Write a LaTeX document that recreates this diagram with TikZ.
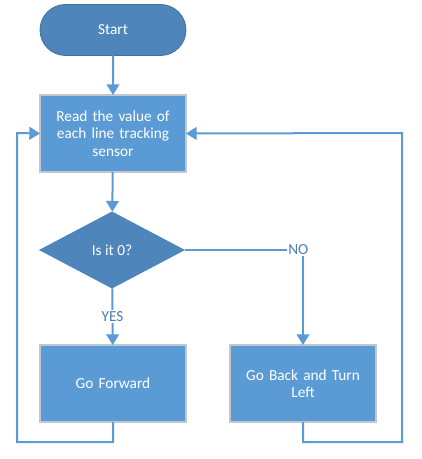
\documentclass[tikz,border=0pt]{standalone}
\usepackage{fontspec}
\setmainfont{Carlito}
\usetikzlibrary{shapes.geometric,shapes.misc,arrows.meta}
\definecolor{boxfill}{HTML}{5B9BD5}
\definecolor{darkfill}{HTML}{4E86BC}
\definecolor{darkedge}{HTML}{41719C}
\definecolor{lightedge}{HTML}{BFC7D0}
\definecolor{linecol}{HTML}{5B9BD5}
\definecolor{labcol}{HTML}{4A7EB5}
\tikzset{
  pxnode/.style={inner sep=0pt, outer sep=0pt, text=white, font=\fontsize{11.5}{13}\selectfont, align=center},
  procbox/.style={pxnode, rectangle, fill=boxfill, draw=lightedge, line width=0.9pt, minimum width=109.5pt, minimum height=57.75pt, text width=104pt},
  termbox/.style={pxnode, rounded rectangle, fill=darkfill, draw=darkedge, line width=0.6pt, minimum width=109.5pt, minimum height=38.25pt},
  decbox/.style={pxnode, diamond, fill=darkfill, aspect=1.9, minimum width=109.5pt, minimum height=57.75pt},
  conn/.style={draw=linecol, line width=1.5pt},
  arr/.style={conn, -{Triangle[width=9.5pt,length=8pt]}},
  lab/.style={font=\fontsize{11.5}{13}\selectfont, text=labcol, fill=white, inner sep=1pt}
}
\begin{document}
\begin{tikzpicture}[x=0.75pt,y=-0.75pt]
\useasboundingbox (0,0) rectangle (421,459);
\node[termbox] (start) at (113,30) {Start};
\node[procbox] (read) at (113,133.5) {Read the value of\\each line tracking\\sensor};
\node[decbox] (dec) at (112,250) {Is it 0?};
\node[procbox] (fwd) at (113,383.5) {Go Forward};
\node[procbox] (back) at (303,383.5) {Go Back and Turn\\Left};
\coordinate (nocorner) at (303,250);
\coordinate (lb1) at (113,442);
\coordinate (lb2) at (17,442);
\coordinate (lb3) at (17,133);
\coordinate (rb1) at (303,442);
\coordinate (rb2) at (402,442);
\coordinate (rb3) at (402,133);
\draw[arr] (start) -- (read);
\draw[arr] (read) -- (dec);
\draw[arr] (dec) -- node[lab, pos=0.5] {YES} (fwd);
\draw[arr] (nocorner) -- (back);
\draw[conn] (dec.east) -- (nocorner) node[lab, pos=0.96] {NO};
\draw[arr] (fwd.south) -- (lb1) -- (lb2) -- (lb3) -- (read.west);
\draw[arr] (back.south) -- (rb1) -- (rb2) -- (rb3) -- (read.east);
\end{tikzpicture}
\end{document}
